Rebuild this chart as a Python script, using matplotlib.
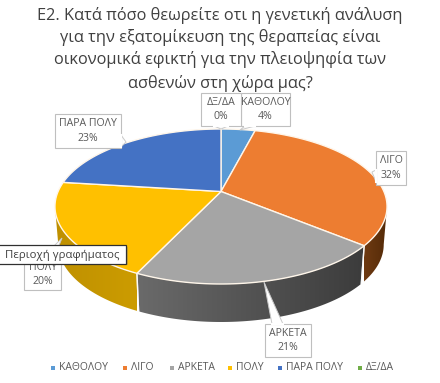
import numpy as np
import matplotlib
matplotlib.use("Agg")
import matplotlib.pyplot as plt
from matplotlib.patches import Polygon, Rectangle
from matplotlib.colors import LinearSegmentedColormap

categories = ["ΚΑΘΟΛΟΥ", "ΛΙΓΟ", "ΑΡΚΕΤΑ", "ΠΟΛΥ", "ΠΑΡΑ ΠΟΛΥ", "ΔΞ/ΔΑ"]
values = [4, 32, 21, 20, 23, 0]
colors = ["#5B9BD5", "#ED7D31", "#A5A5A5", "#FFC000", "#4472C4", "#70AD47"]
title_lines = [
    "Ε2. Κατά πόσο θεωρείτε οτι η γενετική ανάλυση",
    "για την εξατομίκευση της θεραπείας είναι",
    "οικονομικά εφικτή για την πλειοψηφία των",
    "ασθενών στη χώρα μας?",
]
side_colors = {
    "ΛΙΓΟ": ("#6E3A12", "#552B08"),
    "ΑΡΚΕΤΑ": ("#6A6A6A", "#3C3C3C"),
    "ΠΟΛΥ": ("#BF9000", "#CC9C00"),
}

plt.rcParams["font.family"] = ["Open Sans", "DejaVu Sans"]
TEXT = "#595959"

# pie in perspective, fitted to the rim in pixels
CX, CY, RX, RY, K, DEPTH = 221, 191.5, 162.9, 74.6, 0.1935, 38


def rim(theta):
    w = 1 + K * np.cos(theta)
    return CX + RX * np.sin(theta) / w, CY - RY * np.cos(theta) / w


fig = plt.figure(figsize=(4.4, 3.83), dpi=100)
ax = fig.add_axes([0, 0, 1, 1])
ax.axis("off")

edges = np.cumsum([0] + values) / sum(values) * 2 * np.pi
left_lim = 2 * np.pi - np.arccos(-K)
right_lim = np.arccos(-K)

# sides
for name, a, b in zip(categories, edges[:-1], edges[1:]):
    if name not in side_colors:
        continue
    t = np.linspace(max(a, right_lim), min(b, left_lim), 80)
    x, y = rim(t)
    xb = CX + (x - CX) * 0.98
    yb = y + DEPTH
    pts = np.vstack([np.c_[x, y], np.c_[xb, yb][::-1]])
    poly = Polygon(pts, closed=True, fc="none", ec="none", zorder=1)
    ax.add_patch(poly)
    cmap = LinearSegmentedColormap.from_list(name, side_colors[name])
    # seam order runs right to left, the colour stops read left to right
    img = ax.imshow(np.linspace(0, 1, 100)[None, :], cmap=cmap, aspect="auto",
                    extent=[x.min(), x.max(), yb.max(), y.min()], zorder=1)
    img.set_clip_path(poly)
    if a >= right_lim:
        ax.plot([x[0], xb[0]], [y[0], yb[0]], color="white", lw=1, alpha=0.8, zorder=1.5)
    if b <= left_lim:
        ax.plot([x[-1], xb[-1]], [y[-1], yb[-1]], color="white", lw=1, alpha=0.8, zorder=1.5)

ax.set_xlim(0, 440)
ax.set_ylim(383, 0)

# top face
for c, a, b in zip(colors, edges[:-1], edges[1:]):
    if b == a:
        continue
    x, y = rim(np.linspace(a, b, 80))
    pts = np.vstack([[CX, CY], np.c_[x, y]])
    ax.add_patch(Polygon(pts, closed=True, fc=c, ec="#FFF6EA", lw=1, joinstyle="round", zorder=2))

# title
title_y = [15, 38, 60, 83]
for line, ty in zip(title_lines, title_y):
    ax.text(220, ty, line, ha="center", va="center", fontsize=11.75, color="#404040", zorder=6)

z_next = [3.0]


# data labels with leader wedges, later ones cover earlier ones
def callout(text, pct, x0, y0, w, h, tip, base):
    z = z_next[0]
    z_next[0] += 0.05
    ax.add_patch(Polygon([tip, base[0], base[1]], closed=True, fc="white", ec="#C9C9C9", lw=0.7, zorder=z))
    ax.add_patch(Rectangle((x0, y0), w, h, fc="white", ec="#BFBFBF", lw=0.8, zorder=z + 0.01))
    ax.plot([base[0][0], base[1][0]], [base[0][1], base[1][1]], color="white", lw=1.5, zorder=z + 0.02)
    ax.text(x0 + w / 2, y0 + h * 0.29, text, ha="center", va="center", fontsize=7.6, color=TEXT, zorder=z + 0.03)
    ax.text(x0 + w / 2, y0 + h * 0.72, f"{pct}%", ha="center", va="center", fontsize=7.6, color=TEXT, zorder=z + 0.03)


callout(categories[4], values[4], 55, 114, 66, 34, (126, 142), ((121, 135), (121, 147)))
callout(categories[0], values[0], 241, 93, 49, 33, (240, 130), ((245, 126), (255, 126)))
callout(categories[1], values[1], 376, 151, 30, 34, (372, 172), ((376, 170), (376, 182)))
callout(categories[2], values[2], 265, 324, 46, 33, (264, 282), ((272, 324), (283, 324)))
callout(categories[3], values[3], 24, 258, 37, 32, (62, 238), ((42, 258), (54, 258)))
callout(categories[5], values[5], 201, 93, 40, 33, (221, 129), ((214, 126), (228, 126)))

# tooltip over the chart
ax.add_patch(Rectangle((-2, 247), 130, 18, fc="#808080", ec="none", alpha=0.35, zorder=4))
ax.add_patch(Rectangle((-2, 245), 128, 18.5, fc="white", ec="#303030", lw=0.9, zorder=4.1))
ax.text(5, 255, "Περιοχή γραφήματος", ha="left", va="center", fontsize=8.2, color="#404040", zorder=4.2)

# legend
legend_x = [51, 123, 170, 228, 278, 358]
for c, name, lx in zip(colors, categories, legend_x):
    ax.add_patch(Rectangle((lx, 366), 4, 4, fc=c, ec="none", zorder=3))
    ax.text(lx + 8, 368, name, ha="left", va="center", fontsize=7.5, color=TEXT, zorder=3)

fig.savefig("out.png", dpi=100)
